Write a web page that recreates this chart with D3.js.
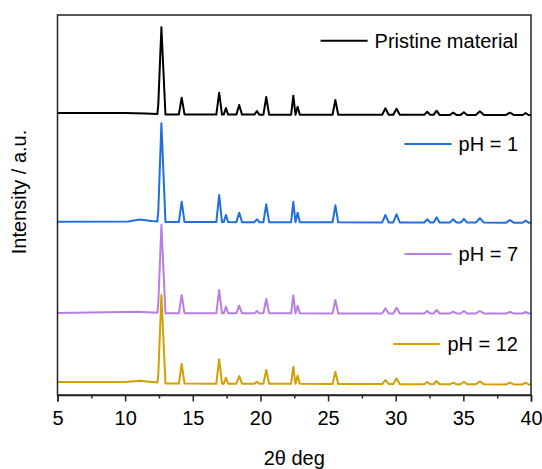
<!DOCTYPE html>
<html><head><meta charset="utf-8">
<script src="https://cdn.jsdelivr.net/npm/d3@7"></script>
<style>
html,body{margin:0;padding:0;background:#fff;}
text{font-family:"Liberation Sans",Arial,sans-serif;fill:#000;}
</style></head>
<body>
<svg id="chart" width="542" height="469"></svg>
<script>
// ---- data ----
const seriesNames = ["Pristine material", "pH = 1", "pH = 7", "pH = 12"];
const seriesColors = ["#000000", "#1f6fe0", "#b77fe2", "#d2a000"];
const xTicksMajor = [5, 10, 15, 20, 25, 30, 35, 40];
const xTicksMinor = [7.5, 12.5, 17.5, 22.5, 27.5, 32.5, 37.5];
// reflection positions (2θ)
const peakPos = [12.68, 14.18, 16.95, 17.45, 18.43, 19.74, 20.43, 22.43, 22.75, 25.54,
                 29.24, 30.06, 32.33, 33.02, 34.25, 35.04, 36.22, 38.44, 39.6];
const peakHalfWidth = [0.3, 0.21, 0.21, 0.16, 0.21, 0.18, 0.21, 0.16, 0.16, 0.21,
                       0.24, 0.24, 0.22, 0.22, 0.24, 0.24, 0.3, 0.28, 0.22];
// peak top intensities (a.u., stacked with offsets as in the figure)
const pristineTops = [367.7, 297.3, 302.3, 287, 290, 284, 298, 299.3, 288.3, 295,
                      286.7, 286.3, 283.3, 284.3, 282.3, 282.7, 283.7, 282.3, 282];
const ph1Tops = [271.7, 193.3, 200, 180, 182.3, 175.7, 190.7, 193.3, 182.3, 189.7,
                 180, 180.7, 175.7, 177.7, 175.7, 176, 176.7, 175, 174.3];
const ph7Tops = [170, 100, 105, 88.3, 89.3, 84, 96, 99.7, 89.3, 95,
                 86.7, 87.3, 84, 85, 83.3, 84, 84, 83, 83];
const ph12Tops = [100, 31, 35.7, 17.3, 19, 13.3, 25, 28.3, 19.3, 23.3,
                  15, 16.7, 13, 14, 12.3, 13.3, 13.7, 12.3, 12.3];
// baselines [2θ, intensity]
const pristineBase = [[5, 282], [10, 282], [11.5, 281.5], [13, 280.5], [40, 280]];
const ph1Base = [[5, 173.3], [10.2, 173.5], [11.1, 175.5], [12, 174], [13, 173], [40, 172.3]];
const ph7Base = [[5, 82], [11, 83.2], [12, 82.5], [13, 81.7], [40, 81.5]];
const ph12Base = [[5, 13], [10, 13], [11.1, 14.2], [12, 13], [13, 11.5], [40, 10.5]];
// foot/shoulder of the strongest reflection (left flank at 2θ = 12.45)
const mainShoulder = [290.5, 183.5, 91, 20];

const allTops = [pristineTops, ph1Tops, ph7Tops, ph12Tops];
const allBases = [pristineBase, ph1Base, ph7Base, ph12Base];

// ---- layout ----
const L = 57.5, R = 531, T = 15, B = 395;
const svg = d3.select("#chart");
const x = d3.scaleLinear().domain([5, 40]).range([L, R]);
const y = d3.scaleLinear().domain([0, 380]).range([B, T]);

function buildPoints(si) {
  const base = allBases[si];
  const bx = d3.scaleLinear().domain(base.map(d => d[0])).range(base.map(d => d[1]));
  const pts = base.map(d => [d[0], d[1]]);
  peakPos.forEach((p, i) => {
    const w = peakHalfWidth[i];
    pts.push([p - w, bx(p - w)]);
    pts.push([p, allTops[si][i]]);
    pts.push([p + w, bx(p + w)]);
  });
  pts.push([12.45, mainShoulder[si]]);
  pts.push([11.95, bx(11.95)]);
  pts.sort((a, b) => a[0] - b[0]);
  return pts;
}

const line = d3.line().x(d => x(d[0])).y(d => y(d[1]));

const g = svg.append("g");
[0, 1, 2, 3].forEach(si => {
  g.append("path")
    .datum(buildPoints(si))
    .attr("fill", "none")
    .attr("stroke", seriesColors[si])
    .attr("stroke-width", 2)
    .attr("stroke-linejoin", "round")
    .attr("d", line);
});

// frame
svg.append("rect").attr("x", L).attr("y", T).attr("width", R - L).attr("height", B - T)
  .attr("fill", "none").attr("stroke", "#222").attr("stroke-width", 1.5);

// x axis
const ax = svg.append("g").attr("transform", `translate(0,${B})`)
  .call(d3.axisBottom(x).tickValues(xTicksMajor).tickSize(6.5).tickFormat(d3.format("d")));
ax.select(".domain").attr("stroke", "#222").attr("stroke-width", 1.5);
ax.selectAll(".tick line").attr("stroke", "#222").attr("stroke-width", 1.5);
ax.selectAll(".tick text").attr("y", 30).attr("dy", 0)
  .style("font-size", "20px").style("font-family", "'Liberation Sans', Arial, sans-serif").attr("fill", "#000");
const axm = svg.append("g").attr("transform", `translate(0,${B})`)
  .call(d3.axisBottom(x).tickValues(xTicksMinor).tickSize(3.5).tickFormat(""));
axm.select(".domain").remove();
axm.selectAll(".tick line").attr("stroke", "#222").attr("stroke-width", 1.5);

// axis titles
svg.append("text").attr("x", (L + R) / 2).attr("y", 465).attr("text-anchor", "middle")
  .style("font-size", "20px").text("2θ deg");
svg.append("text").attr("transform", "translate(26,192) rotate(-90)").attr("text-anchor", "middle")
  .style("font-size", "20px").text("Intensity / a.u.");

// legends
const legendY = [40.7, 144, 254, 344];
seriesNames.forEach((name, i) => {
  const t = svg.append("text").attr("x", 518).attr("y", legendY[i] + 7.2)
    .attr("text-anchor", "end").style("font-size", "20px").text(name);
  const tw = t.node().getComputedTextLength();
  const x1 = 518 - tw - 7;
  svg.append("line").attr("x1", x1 - 47).attr("x2", x1)
    .attr("y1", legendY[i]).attr("y2", legendY[i])
    .attr("stroke", seriesColors[i]).attr("stroke-width", 2);
});
</script>
</body></html>
